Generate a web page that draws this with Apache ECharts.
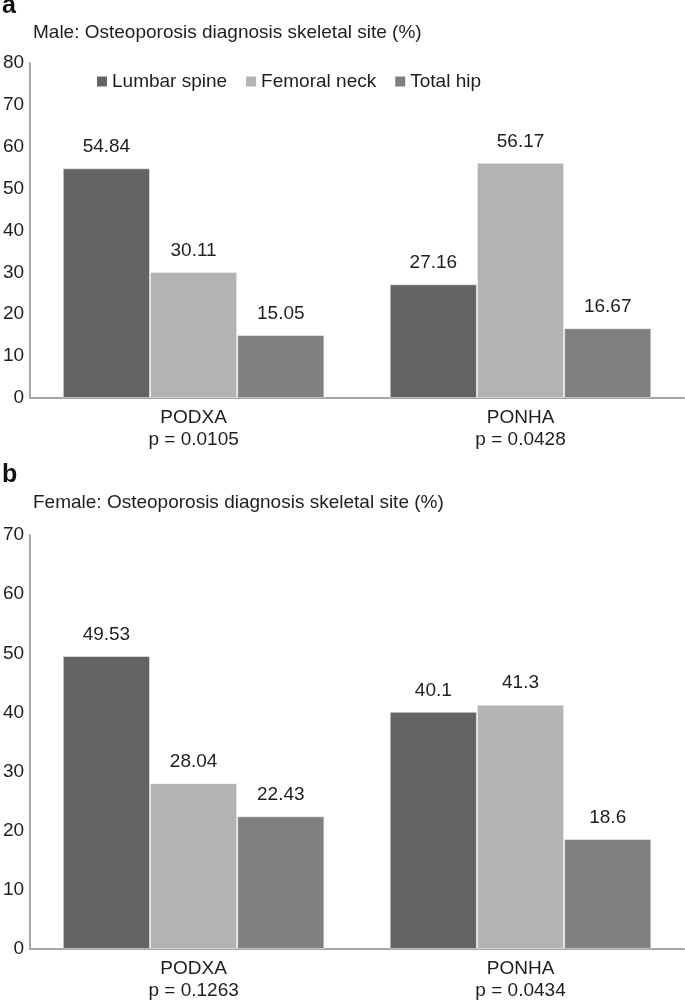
<!DOCTYPE html>
<html>
<head>
<meta charset="utf-8">
<script src="https://cdn.jsdelivr.net/npm/echarts@6/dist/echarts.min.js"></script>
<style>
html,body{margin:0;padding:0;background:#fff;}
#chart{width:685px;height:1004px;}
</style>
</head>
<body>
<div id="chart"></div>
<script>
var categories = ['PODXA', 'PONHA'];
var pMale = ['p = 0.0105', 'p = 0.0428'];
var pFemale = ['p = 0.1263', 'p = 0.0434'];
var seriesNames = ['Lumbar spine', 'Femoral neck', 'Total hip'];
var maleLumbar = [54.84, 27.16];
var maleFemoral = [30.11, 56.17];
var maleHip = [15.05, 16.67];
var femaleLumbar = [49.53, 40.1];
var femaleFemoral = [28.04, 41.3];
var femaleHip = [22.43, 18.6];
var maleTicks = [0, 80, 10];
var femaleTicks = [0, 70, 10];

var colors = ['#646464', '#b3b3b3', '#808080'];
var FONT = '"Liberation Sans", Arial, sans-serif';
var txt = '#1e1e1e';

function yAxis(grid, t) {
  return {
    type: 'value', gridIndex: grid, min: t[0], max: t[1], interval: t[2],
    axisLine: {show: true, lineStyle: {color: '#a6a6a6', width: 2}},
    axisTick: {show: false},
    splitLine: {show: false},
    axisLabel: {color: txt, fontSize: 19, fontFamily: FONT, margin: 6}
  };
}
function xAxis(grid, plist) {
  return {
    type: 'category', gridIndex: grid, data: categories,
    axisLine: {show: true, lineStyle: {color: '#a6a6a6', width: 2}},
    axisTick: {show: false},
    axisLabel: {
      color: txt, fontSize: 19, fontFamily: FONT, margin: 9, lineHeight: 22,
      formatter: function (v, i) { return v + '\n' + plist[i]; }
    }
  };
}
function bar(name, data, idx, grid) {
  return {
    type: 'bar', name: name, data: data, xAxisIndex: grid, yAxisIndex: grid,
    barGap: '0%', barCategoryGap: '20%',
    itemStyle: {color: colors[idx], borderColor: 'rgba(255,255,255,0.45)', borderWidth: 1},
    label: {show: true, position: 'top', distance: 12, color: txt, fontSize: 19, fontFamily: FONT},
    emphasis: {disabled: true}
  };
}

var option = {
  animation: false,
  backgroundColor: '#fff',
  textStyle: {fontFamily: FONT},
  title: [
    {text: 'a', left: 2, top: -6, padding: 0, textStyle: {fontSize: 25, fontWeight: 'bold', color: '#111', fontFamily: FONT}},
    {text: 'Male: Osteoporosis diagnosis skeletal site (%)', left: 33, top: 23, padding: 0, textStyle: {fontSize: 19, fontWeight: 'normal', color: txt, fontFamily: FONT}},
    {text: 'b', left: 2, top: 463, padding: 0, textStyle: {fontSize: 25, fontWeight: 'bold', color: '#111', fontFamily: FONT}},
    {text: 'Female: Osteoporosis diagnosis skeletal site (%)', left: 33, top: 493, padding: 0, textStyle: {fontSize: 19, fontWeight: 'normal', color: txt, fontFamily: FONT}}
  ],
  legend: {
    data: seriesNames, left: 97, top: 72, padding: 0,
    icon: 'rect', itemWidth: 10, itemHeight: 10, itemGap: 19,
    itemStyle: {borderWidth: 0},
    textStyle: {fontSize: 19, color: txt, fontFamily: FONT}
  },
  grid: [
    {left: 27, right: 1, top: 63, height: 335},
    {left: 27, right: 1, top: 535, height: 414}
  ],
  xAxis: [xAxis(0, pMale), xAxis(1, pFemale)],
  yAxis: [yAxis(0, maleTicks), yAxis(1, femaleTicks)],
  series: [
    bar(seriesNames[0], maleLumbar, 0, 0),
    bar(seriesNames[1], maleFemoral, 1, 0),
    bar(seriesNames[2], maleHip, 2, 0),
    bar(seriesNames[0], femaleLumbar, 0, 1),
    bar(seriesNames[1], femaleFemoral, 1, 1),
    bar(seriesNames[2], femaleHip, 2, 1)
  ]
};
var chart = echarts.init(document.getElementById('chart'), null, {renderer: 'canvas'});
chart.setOption(option);
</script>
</body>
</html>
